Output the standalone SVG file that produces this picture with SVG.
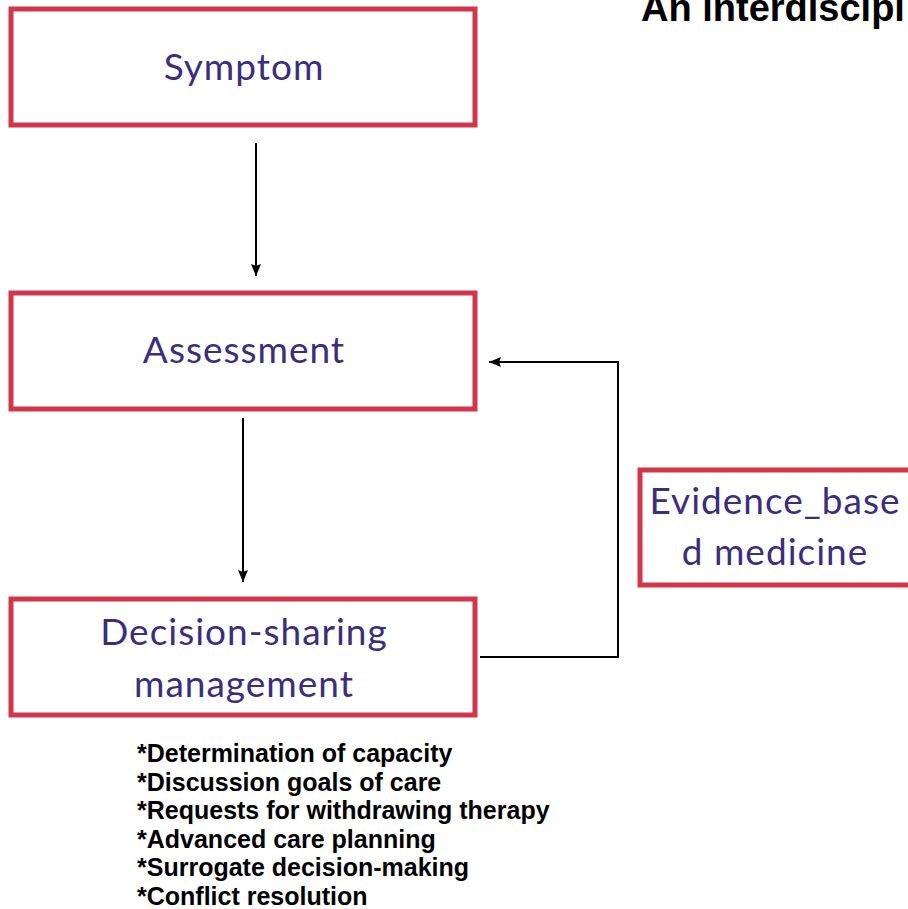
<svg xmlns="http://www.w3.org/2000/svg" width="908" height="909" viewBox="0 0 908 909">
  <style>
    .box { fill: #ffffff; stroke: #d3364b; stroke-width: 5; }
    .label { font-family: Lato, "Noto Sans", sans-serif; font-size: 37px; letter-spacing: 1px; fill: #3b2e7c; text-anchor: middle; }
    .edge { fill: none; stroke: #000000; stroke-width: 2; }
    .title { font-family: "Liberation Sans", Arial, sans-serif; font-weight: bold; font-size: 38px; fill: #000000; }
    .item { font-family: "Liberation Sans", Arial, sans-serif; font-weight: bold; font-size: 25px; fill: #000000; }
  </style>
  <defs>
    <marker id="arrow" viewBox="0 0 12 10" refX="12" refY="5" markerWidth="12" markerHeight="10" orient="auto" markerUnits="userSpaceOnUse">
      <path d="M0,0 L12,5 L0,10 L2,5 z" fill="#000000"/>
    </marker>
  </defs>

  <rect width="908" height="909" fill="#ffffff"/>

  <!-- heading, running past the right edge -->
  <text class="title" x="641" y="21">An interdiscipl</text>

  <g id="connectors">
    <line class="edge" x1="256" y1="143" x2="256" y2="276" marker-end="url(#arrow)"/>
    <line class="edge" x1="243" y1="418" x2="243" y2="582" marker-end="url(#arrow)"/>
    <path class="edge" d="M480,657 H618 V362 H489" marker-end="url(#arrow)"/>
  </g>

  <g id="symptom">
    <rect class="box" x="11" y="9" width="464" height="116"/>
    <text class="label" x="244" y="80">Symptom</text>
  </g>

  <g id="assessment">
    <rect class="box" x="11" y="293" width="464" height="116"/>
    <text class="label" x="244" y="363">Assessment</text>
  </g>

  <g id="decision">
    <rect class="box" x="11" y="599" width="464" height="116"/>
    <text class="label" x="244" y="645">Decision-sharing</text>
    <text class="label" x="244" y="697">management</text>
  </g>

  <g id="evidence">
    <rect class="box" x="640" y="470" width="300" height="115"/>
    <text class="label" x="775" y="514">Evidence_base</text>
    <text class="label" x="775" y="565">d medicine</text>
  </g>

  <g id="decision-items">
    <text class="item" x="137" y="762">*Determination of capacity</text>
    <text class="item" x="137" y="791">*Discussion goals of care</text>
    <text class="item" x="137" y="819">*Requests for withdrawing therapy</text>
    <text class="item" x="137" y="848">*Advanced care planning</text>
    <text class="item" x="137" y="876">*Surrogate decision-making</text>
    <text class="item" x="137" y="905">*Conflict resolution</text>
  </g>
</svg>
